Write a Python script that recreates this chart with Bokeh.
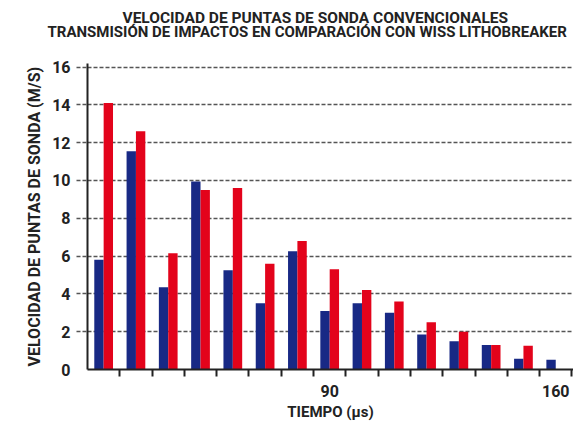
from bokeh.plotting import figure
from bokeh.models import FixedTicker, Title, ColumnDataSource
from bokeh.transform import dodge
from bokeh.embed import file_html
from bokeh.resources import INLINE

# --- data ---
tiempo = [20, 30, 40, 50, 60, 70, 80, 90, 100, 110, 120, 130, 140, 150, 160]
convencional = [5.8, 11.55, 4.35, 9.95, 5.25, 3.5, 6.25, 3.1, 3.5, 3.0, 1.85, 1.5, 1.3, 0.57, 0.52]
lithobreaker = [14.1, 12.6, 6.15, 9.5, 9.6, 5.6, 6.8, 5.3, 4.2, 3.6, 2.5, 2.0, 1.3, 1.25, 0.0]
x_tick_labels = [90, 160]
x_boundaries = [25, 35, 45, 55, 65, 75, 85, 95, 105, 115, 125, 135, 145, 155, 165]
y_ticks = [0, 2, 4, 6, 8, 10, 12, 14, 16]

title_1 = "VELOCIDAD DE PUNTAS DE SONDA CONVENCIONALES"
title_2 = "TRANSMISIÓN DE IMPACTOS EN COMPARACIÓN CON WISS LITHOBREAKER"
x_title = "TIEMPO (µs)"
y_title = "VELOCIDAD DE PUNTAS DE SONDA (M/S)"

BLUE = "#182985"
RED = "#e3031b"
INK = "#222222"
GRID = "#555555"
FONT = "Roboto"

src = ColumnDataSource(dict(tiempo=tiempo, conv=convencional, litho=lithobreaker))

p = figure(width=573, height=422, output_backend="svg", toolbar_location=None,
           x_range=(15, 165.5), y_range=(0, 17.3), title=None,
           min_border_left=87, min_border_right=0, min_border_top=42, min_border_bottom=52)
p.outline_line_color = None
p.background_fill_color = "white"
p.border_fill_color = "white"

p.vbar(x=dodge("tiempo", -1.45, range=p.x_range), top="conv", width=2.9, bottom=0,
       source=src, fill_color=BLUE, line_color=None)
p.vbar(x=dodge("tiempo", 1.45, range=p.x_range), top="litho", width=2.9, bottom=0,
       source=src, fill_color=RED, line_color=None)

# two-line heading (second line nearest the plot)
t2 = Title(text=title_2, align="left", offset=-40, standoff=0, vertical_align="top",
           text_font=FONT, text_font_size="15px", text_font_style="bold", text_color=INK)
t1 = Title(text=title_1, align="left", offset=35, standoff=-8, vertical_align="bottom",
           text_font=FONT, text_font_size="15.5px", text_font_style="bold", text_color=INK)
p.add_layout(t2, "above")
p.add_layout(t1, "above")

# x axis
xa = p.xaxis[0]
xa.ticker = FixedTicker(ticks=x_tick_labels, minor_ticks=x_boundaries)
xa.major_tick_out = 0
xa.major_tick_in = 0
xa.minor_tick_out = 7
xa.minor_tick_in = 0
xa.minor_tick_line_width = 2
xa.minor_tick_line_color = INK
xa.axis_line_width = 2
xa.axis_line_color = INK
xa.major_label_standoff = 8
xa.major_label_text_font = FONT
xa.major_label_text_font_size = "16px"
xa.major_label_text_font_style = "bold"
xa.major_label_text_color = INK

tx = Title(text=x_title, align="center", standoff=3, vertical_align="bottom",
           text_font=FONT, text_font_size="15px", text_font_style="bold", text_color=INK)
p.add_layout(tx, "below")

# y axis
ya = p.yaxis[0]
ya.ticker = FixedTicker(ticks=y_ticks, minor_ticks=y_ticks[1:])
ya.bounds = (0, 16.2)
ya.major_tick_out = 0
ya.major_tick_in = 0
ya.minor_tick_out = 11
ya.minor_tick_in = 0
ya.minor_tick_line_width = 1.5
ya.minor_tick_line_color = GRID
ya.minor_tick_line_dash = "4 2"
ya.axis_line_width = 2
ya.axis_line_color = INK
ya.major_label_standoff = 6
ya.major_label_text_font = FONT
ya.major_label_text_font_size = "16px"
ya.major_label_text_font_style = "bold"
ya.major_label_text_color = INK

# y-axis title as a side title so that it can sit along the drawn axis
ty = Title(text=y_title, align="left", offset=3, standoff=11, vertical_align="bottom",
           text_font=FONT, text_font_size="16px", text_font_style="bold", text_color=INK)
p.add_layout(ty, "left")

p.xgrid.grid_line_color = None
p.ygrid.ticker = FixedTicker(ticks=y_ticks[1:])
p.ygrid.grid_line_color = GRID
p.ygrid.grid_line_width = 1.5
p.ygrid.grid_line_dash = "4 2"

open("out.html", "w").write(file_html(p, INLINE))
